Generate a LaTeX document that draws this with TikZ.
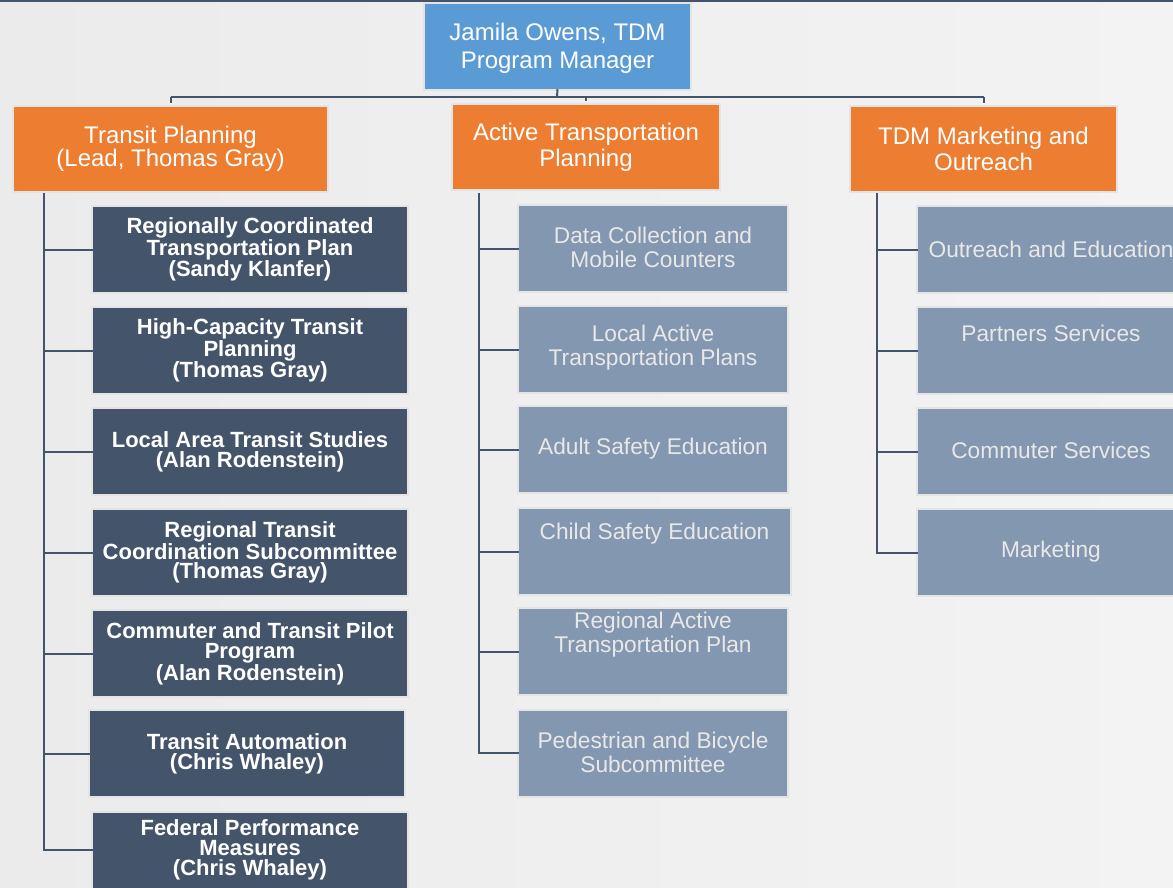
\documentclass[tikz,border=0pt]{standalone}
\usepackage{fontspec}
\setmainfont{Liberation Sans}
\definecolor{bgL}{HTML}{EBEBEB}
\definecolor{bgR}{HTML}{F3F3F3}
\definecolor{topblue}{HTML}{5B9BD5}
\definecolor{orng}{HTML}{ED7D31}
\definecolor{darkslate}{HTML}{44546A}
\definecolor{lightslate}{HTML}{8497B0}
\definecolor{halo}{HTML}{E4E4E4}
\definecolor{ltext}{HTML}{E8E8E8}
\begin{document}
\begin{tikzpicture}[x=1pt,y=-1pt,
  boxbase/.style={rectangle, inner sep=0pt, align=center, preaction={draw=halo, line width=4pt}},
  topbox/.style={boxbase, fill=topblue, minimum width=265pt, minimum height=85pt},
  orbox/.style={boxbase, fill=orng, text=white, minimum height=84pt},
  darkbox/.style={boxbase, fill=darkslate, text=white, font=\fontsize{22}{20}\selectfont\bfseries, minimum width=314pt, minimum height=85pt},
  lightbox/.style={boxbase, fill=lightslate, minimum width=268pt, minimum height=85pt},
  lighttext/.style={inner sep=0pt, align=center, text=ltext, font=\fontsize{22.7}{24}\selectfont},
  conn/.style={draw=darkslate, line width=2pt}]
\useasboundingbox (0,0) rectangle (1173,887);
\shade[left color=bgL, right color=bgR] (0,0) rectangle (1173,887);
\clip (0,0) rectangle (1173,887);
\fill[darkslate] (0,0) rectangle (1173,2);

% top
\node[topbox] (top) at (557.5,46.5) {};
\node[inner sep=0pt, align=center, text=white, font=\fontsize{24}{28}\selectfont] (topt) at (557.5,48) {Jamila Owens, TDM\\Program Manager};

% orange heads
\node[orbox, minimum width=313pt, font=\fontsize{24}{22}\selectfont] (tp) at (170.5,148.5) {Transit Planning\\(Lead, Thomas Gray)};
\node[orbox, minimum width=266pt, font=\fontsize{24}{26}\selectfont] (atp) at (586,147) {Active Transportation\\Planning};
\node[orbox, minimum width=265pt, font=\fontsize{24}{26}\selectfont] (tdm) at (983.5,148.5) {TDM Marketing and\\Outreach};

% top connectors
\coordinate (bus) at (557,97);
\draw[conn] (top.south) -- (bus);
\draw[conn] (tp.north |- bus) -- (tdm.north |- bus);
\draw[conn] (tp.north |- bus) -- ++(0,6);
\draw[conn] (tdm.north |- bus) -- ++(0,6);
\draw[conn] (atp.north |- bus) -- ++(0,4);

% left column
\node[darkbox] (d1) at (250,249.5) {Regionally Coordinated\\Transportation Plan\\(Sandy Klanfer)};
\node[darkbox] (d2) at (250,350.5) {High-Capacity Transit\\Planning\\(Thomas Gray)};
\node[darkbox] (d3) at (250,451.5) {Local Area Transit Studies\\(Alan Rodenstein)};
\node[darkbox] (d4) at (250,552.5) {Regional Transit\\Coordination Subcommittee\\(Thomas Gray)};
\node[darkbox] (d5) at (250,653.5) {Commuter and Transit Pilot\\Program\\(Alan Rodenstein)};
\node[darkbox] (d6) at (247,753.5) {Transit Automation\\(Chris Whaley)};
\node[darkbox] (d7) at (250,855.5) {};
\node[inner sep=0pt, align=center, text=white, font=\fontsize{22}{20}\selectfont\bfseries] (d7t) at (250,850) {Federal Performance\\Measures\\(Chris Whaley)};

\coordinate (lt) at (44,193);
\draw[conn] (lt) |- (d7t.west -| d7.west);
\foreach \i in {1,...,6} \draw[conn] (lt |- d\i.west) -- (d\i.west);

% middle column
\node[lightbox] (m1) at (653,248.5) {};
\node[lighttext] (m1t) at (653,247) {Data Collection and\\Mobile Counters};
\node[lightbox] (m2) at (653,349.5) {};
\node[lighttext] (m2t) at (653,348) {Local Active\\Transportation Plans};
\node[lightbox] (m3) at (653,449.5) {};
\node[lighttext] (m3t) at (653,449) {Adult Safety Education};
\node[lightbox, minimum width=271pt] (m4) at (654.5,551.5) {};
\node[lighttext] (m4t) at (654.5,534) {Child Safety Education};
\node[lightbox] (m5) at (653,651.5) {};
\node[lighttext] (m5t) at (653,635) {Regional Active\\Transportation Plan};
\node[lightbox] (m6) at (653,753) {};
\node[lighttext] (m6t) at (653,752) {Pedestrian and Bicycle\\Subcommittee};

\coordinate (mt) at (479,193);
\draw[conn] (mt) |- (m6.west);
\foreach \i in {1,...,5} \draw[conn] (mt |- m\i.west) -- (m\i.west);

% right column
\node[lightbox, minimum width=266pt] (r1) at (1051,249.5) {};
\node[lighttext] (r1t) at (1051,249) {Outreach and Education};
\node[lightbox, minimum width=266pt] (r2) at (1051,350.5) {};
\node[lighttext] (r2t) at (1051,333) {Partners Services};
\node[lightbox, minimum width=266pt] (r3) at (1051,451.5) {};
\node[lighttext] (r3t) at (1051,450) {Commuter Services};
\node[lightbox, minimum width=266pt] (r4) at (1051,552.5) {};
\node[lighttext] (r4t) at (1051,552) {Marketing};

\coordinate (rt) at (877,193);
\draw[conn] (rt) |- (r4.west);
\foreach \i in {1,...,3} \draw[conn] (rt |- r\i.west) -- (r\i.west);
\end{tikzpicture}
\end{document}
